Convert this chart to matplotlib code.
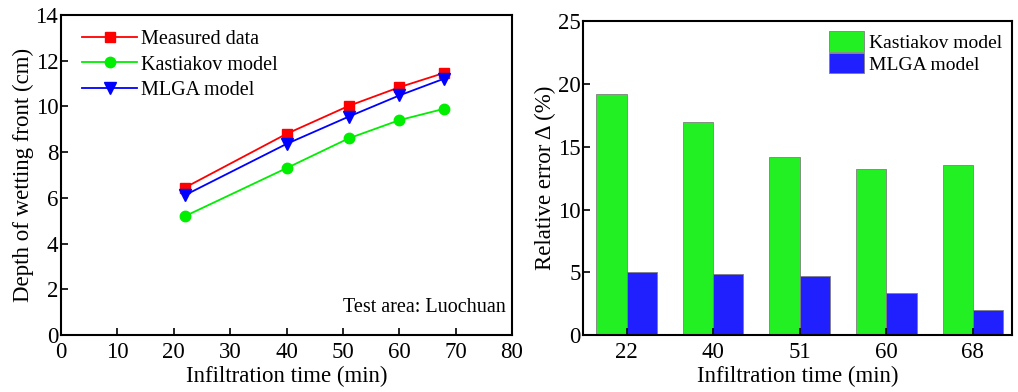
import matplotlib.pyplot as plt
import numpy as np

# infiltration times (min)
times = [22, 40, 51, 60, 68]
measured = [6.45, 8.80, 10.02, 10.84, 11.47]
kastiakov = [5.20, 7.30, 8.60, 9.40, 9.90]
mlga = [6.12, 8.36, 9.55, 10.48, 11.22]

# relative error (%)
time_labels = ['22', '40', '51', '60', '68']
err_kastiakov = [19.23, 16.97, 14.23, 13.25, 13.59]
err_mlga = [5.05, 4.90, 4.68, 3.35, 2.02]

plt.rcParams['font.family'] = ['Liberation Serif', 'DejaVu Serif']
plt.rcParams['font.size'] = 16.5
plt.rcParams['axes.linewidth'] = 1.5

fig = plt.figure(figsize=(10.18, 3.92), dpi=100)

ax1 = fig.add_axes([0.0599, 0.1454, 0.4431, 0.8163])
ax1.plot(times, measured, color='#ff0000', marker='s', ms=7, lw=1.3, label='Measured data')
ax1.plot(times, kastiakov, color='#00ee00', marker='o', ms=7.5, lw=1.3, label='Kastiakov model')
ax1.plot(times, mlga, color='#0000ff', marker='v', ms=8, lw=1.3, label='MLGA model')
ax1.set_xlim(0, 80)
ax1.set_ylim(0, 14)
ax1.set_xticks(range(0, 81, 10))
ax1.set_yticks(range(0, 15, 2))
ax1.tick_params(direction='in', length=5, width=1.2)
ax1.tick_params(axis='x', pad=5)
ax1.tick_params(axis='y', pad=2)
ax1.set_xlabel('Infiltration time (min)', labelpad=2)
ax1.set_ylabel('Depth of wetting front (cm)', labelpad=1)
ax1.legend(loc='upper left', frameon=False, fontsize=14.5, handlelength=2.75,
           handletextpad=0.2, labelspacing=0.3, borderaxespad=0.2,
           bbox_to_anchor=(0.02, 0.99))
ax1.text(0.985, 0.055, 'Test area: Luochuan', transform=ax1.transAxes,
         ha='right', va='bottom', fontsize=14.5)

ax2 = fig.add_axes([0.573, 0.1454, 0.421, 0.80])
x = np.arange(len(time_labels))
w = 0.35
ax2.bar(x - w / 2, err_kastiakov, w, color='#22f022', edgecolor='#808080', lw=0.6,
        label='Kastiakov model')
ax2.bar(x + w / 2, err_mlga, w, color='#2020ff', edgecolor='#808080', lw=0.6,
        label='MLGA model')
ax2.set_xlim(-0.5, 4.45)
ax2.set_ylim(0, 25)
ax2.set_xticks(x)
ax2.set_xticklabels(time_labels)
ax2.set_yticks(range(0, 26, 5))
ax2.tick_params(direction='in', length=5, width=1.2)
ax2.tick_params(axis='x', pad=5)
ax2.tick_params(axis='y', pad=2)
ax2.set_xlabel('Infiltration time (min)', labelpad=2)
ax2.set_ylabel('Relative error Δ (%)', labelpad=1)
ax2.legend(loc='upper right', frameon=False, fontsize=14, handlelength=1.8,
           handleheight=1.25, handletextpad=0.25, labelspacing=0.05,
           borderaxespad=0.1)

fig.savefig('out.png', dpi=100)
